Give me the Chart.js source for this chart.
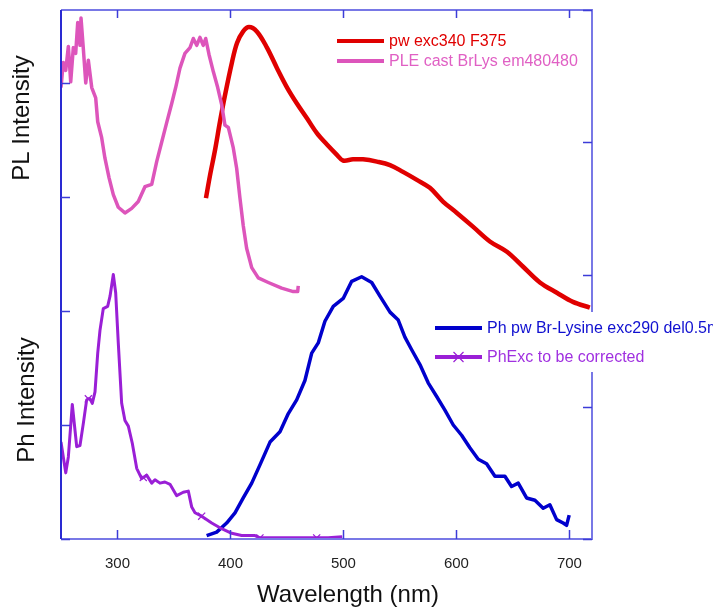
<!DOCTYPE html>
<html>
<head>
<meta charset="utf-8">
<script src="https://cdn.jsdelivr.net/npm/chart.js@4.4.0/dist/chart.umd.min.js"></script>
<style>
  html, body { margin: 0; padding: 0; background: #fff; }
  #wrap { width: 713px; height: 615px; }
</style>
</head>
<body>
<div id="wrap"><canvas id="spectra" width="713" height="615"></canvas></div>
<script>
// PL emission (red)
const redWl = [378.3, 381.9, 386.3, 390.7, 395.1, 401.3, 405.8, 411.1, 416.4, 423.5, 432.3, 441.2, 450.1, 458.8, 467.7, 476.5, 485.4, 494.2, 499.6, 508.4, 517.3, 529.6, 541.2, 552.7, 565.0, 576.5, 588.1, 600.4, 614.6, 629.6, 644.7, 658.8, 673.9, 688.9, 703.1, 718.1];
const redInt = [2.99, 3.19, 3.41, 3.66, 3.89, 4.18, 4.35, 4.45, 4.49, 4.45, 4.31, 4.13, 3.96, 3.82, 3.69, 3.56, 3.46, 3.37, 3.32, 3.33, 3.33, 3.31, 3.28, 3.22, 3.15, 3.08, 2.96, 2.86, 2.74, 2.61, 2.52, 2.39, 2.25, 2.16, 2.08, 2.03];

// PLE (pink)
const pinkWl = [250.0, 252.0, 254.2, 256.5, 258.6, 260.9, 263.0, 264.8, 266.8, 267.7, 269.7, 271.9, 274.2, 277.2, 280.7, 282.5, 286.0, 288.9, 292.5, 296.3, 300.7, 306.6, 312.6, 318.4, 324.3, 330.3, 334.7, 339.1, 343.5, 348.0, 351.5, 355.3, 359.7, 364.2, 367.1, 370.1, 373.0, 375.9, 378.1, 381.0, 384.8, 388.7, 392.2, 395.1, 398.1, 402.5, 405.5, 408.4, 411.3, 414.3, 418.8, 424.6, 433.5, 445.3, 455.6, 459.5, 460.0];
const pinkInt = [3.96, 4.18, 4.11, 4.32, 4.01, 4.31, 4.26, 4.53, 4.33, 4.57, 4.31, 4.00, 4.20, 3.96, 3.87, 3.66, 3.52, 3.34, 3.17, 3.02, 2.91, 2.86, 2.90, 2.96, 3.09, 3.11, 3.31, 3.48, 3.65, 3.82, 3.96, 4.13, 4.26, 4.31, 4.39, 4.33, 4.40, 4.33, 4.39, 4.25, 4.10, 3.96, 3.81, 3.63, 3.61, 3.43, 3.25, 2.99, 2.75, 2.55, 2.38, 2.29, 2.25, 2.20, 2.17, 2.17, 2.22];

// phosphorescence (blue)
const blueWl = [378.9, 387.8, 396.6, 404.0, 411.3, 418.8, 426.1, 435.0, 443.8, 451.2, 458.6, 465.9, 471.9, 477.7, 483.6, 491.0, 499.8, 507.3, 516.1, 525.0, 532.3, 541.2, 548.5, 554.4, 560.4, 567.7, 575.0, 582.5, 589.8, 597.2, 604.6, 611.9, 619.3, 626.7, 634.1, 642.9, 648.8, 654.7, 662.1, 669.5, 676.8, 682.7, 688.7, 694.5, 697.5, 699.8];
const blueInt = [0.03, 0.06, 0.14, 0.23, 0.36, 0.49, 0.65, 0.85, 0.94, 1.10, 1.22, 1.39, 1.63, 1.72, 1.91, 2.04, 2.11, 2.26, 2.30, 2.25, 2.13, 1.99, 1.92, 1.77, 1.66, 1.53, 1.37, 1.25, 1.13, 1.00, 0.91, 0.80, 0.70, 0.66, 0.55, 0.55, 0.46, 0.49, 0.36, 0.34, 0.27, 0.30, 0.17, 0.14, 0.12, 0.21];

// phosphorescence excitation (purple)
const purpleWl = [250.0, 254.2, 256.5, 260.0, 263.9, 266.8, 269.7, 272.7, 274.2, 275.7, 277.7, 280.1, 282.5, 284.5, 287.4, 291.3, 293.4, 296.3, 298.4, 300.7, 303.7, 306.6, 309.6, 313.1, 317.0, 321.4, 322.8, 325.8, 330.3, 333.2, 337.6, 342.0, 346.5, 352.4, 358.2, 362.7, 365.7, 368.6, 374.5, 383.4, 392.2, 401.1, 409.9, 421.7, 426.1, 436.5, 451.2, 468.8, 476.3, 486.5, 498.9];
const purpleInt = [0.85, 0.58, 0.72, 1.18, 0.81, 0.82, 1.01, 1.22, 1.23, 1.23, 1.19, 1.29, 1.63, 1.83, 2.02, 2.04, 2.13, 2.32, 2.16, 1.72, 1.19, 1.04, 0.99, 0.84, 0.62, 0.53, 0.54, 0.56, 0.49, 0.52, 0.49, 0.50, 0.48, 0.38, 0.41, 0.42, 0.28, 0.23, 0.20, 0.14, 0.09, 0.05, 0.03, 0.03, 0.01, 0.01, 0.01, 0.01, 0.01, 0.01, 0.02];
const purpleMarks = [274.2, 322.8, 374.5, 426.1, 476.3];

const xTicks = [300, 400, 500, 600, 700];
const leftTicks = [0, 1, 2, 3, 4];
const rightTicks = [0, 1, 2, 3, 4];

const FONT = "'Liberation Sans', Arial, sans-serif";
Chart.defaults.font.family = FONT;

function pts(xs, ys) {
    return xs.map((x, i) => ({ x: x, y: ys[i] }));
}

// frame, inward ticks, axis labels and the two legend blocks
const decor = {
    id: 'decor',
    afterDatasetsDraw(chart) {
        const { ctx, chartArea: a, scales } = chart;
        ctx.save();

        ctx.lineWidth = 2;
        ctx.strokeStyle = '#7878e6';
        ctx.beginPath();
        ctx.moveTo(a.left, a.top);
        ctx.lineTo(a.right, a.top);
        ctx.lineTo(a.right, a.bottom);
        ctx.lineTo(a.left, a.bottom);
        ctx.stroke();
        ctx.strokeStyle = '#2a2ad2';
        ctx.beginPath();
        ctx.moveTo(a.left, a.top);
        ctx.lineTo(a.left, a.bottom);
        ctx.stroke();

        ctx.strokeStyle = '#3c3cd8';
        ctx.lineWidth = 1.5;
        ctx.beginPath();
        scales.x.ticks.forEach(t => {
            const px = Math.round(scales.x.getPixelForValue(t.value)) + 0.5;
            ctx.moveTo(px, a.top); ctx.lineTo(px, a.top + 8);
            ctx.moveTo(px, a.bottom); ctx.lineTo(px, a.bottom - 9);
        });
        scales.y.ticks.forEach(t => {
            const py = Math.round(scales.y.getPixelForValue(t.value)) + 0.5;
            ctx.moveTo(a.left, py); ctx.lineTo(a.left + 9, py);
        });
        scales.y2.ticks.forEach(t => {
            const py = Math.round(scales.y2.getPixelForValue(t.value)) + 0.5;
            ctx.moveTo(a.right, py); ctx.lineTo(a.right - 9, py);
        });
        ctx.stroke();

        // axis titles
        ctx.fillStyle = '#111';
        ctx.font = '24px ' + FONT;
        ctx.textAlign = 'center';
        ctx.textBaseline = 'middle';
        ctx.fillText('Wavelength (nm)', 348, 595);
        [['PL Intensity', 22, 118], ['Ph Intensity', 27, 400]].forEach(([txt, x, y]) => {
            ctx.save();
            ctx.translate(x, y);
            ctx.rotate(-Math.PI / 2);
            ctx.fillText(txt, 0, 0);
            ctx.restore();
        });

        // legends
        const ds = chart.data.datasets;
        ctx.fillStyle = '#fff';
        ctx.fillRect(432, 312, 300, 60);
        const rows = [[ds[0], 337, 384, 389, 41], [ds[1], 337, 384, 389, 61],
                      [ds[2], 435, 482, 487, 328], [ds[3], 435, 482, 487, 357]];
        ctx.font = '16px ' + FONT;
        ctx.textAlign = 'left';
        rows.forEach(([d, x0, x1, tx, y]) => {
            ctx.strokeStyle = d.borderColor;
            ctx.lineWidth = 4;
            ctx.beginPath(); ctx.moveTo(x0, y); ctx.lineTo(x1, y); ctx.stroke();
            if (d.label.startsWith('PhExc')) {
                const cx = (x0 + x1) / 2;
                ctx.lineWidth = 1.2;
                ctx.beginPath();
                ctx.moveTo(cx - 5, y - 5); ctx.lineTo(cx + 5, y + 5);
                ctx.moveTo(cx - 5, y + 5); ctx.lineTo(cx + 5, y - 5);
                ctx.stroke();
            }
            ctx.fillStyle = d.labelColor;
            ctx.fillText(d.label, tx, y + 1);
        });
        ctx.restore();
    }
};

const config = {
    type: 'line',
    data: {
        datasets: [
            {
                label: 'pw exc340 F375',
                data: pts(redWl, redInt),
                borderColor: '#e00000',
                labelColor: '#e00000',
                borderWidth: 4.5,
                pointRadius: 0,
                tension: 0.35,
                order: 3
            },
            {
                label: 'PLE cast BrLys em480480',
                data: pts(pinkWl, pinkInt),
                borderColor: '#dd55bb',
                labelColor: '#e060c4',
                borderWidth: 3.5,
                pointRadius: 0,
                order: 2
            },
            {
                label: 'Ph pw Br-Lysine exc290 del0.5ms',
                data: pts(blueWl, blueInt),
                borderColor: '#0000cc',
                labelColor: '#1010d0',
                borderWidth: 3.5,
                pointRadius: 0,
                order: 1
            },
            {
                label: 'PhExc to be corrected',
                data: pts(purpleWl, purpleInt),
                borderColor: '#9a1fd6',
                labelColor: '#a030e0',
                borderWidth: 3,
                pointStyle: 'crossRot',
                pointRadius: c => purpleMarks.includes(c.raw && c.raw.x) ? 5 : 0,
                pointBorderWidth: 1.2,
                order: 0
            }
        ]
    },
    options: {
        responsive: false,
        devicePixelRatio: 1,
        animation: false,
        layout: { padding: { top: 10, left: 0, right: 0, bottom: 0 } },
        plugins: {
            legend: { display: false },
            tooltip: { enabled: false }
        },
        elements: { line: { tension: 0, borderJoinStyle: 'round' } },
        scales: {
            x: {
                type: 'linear',
                min: 250,
                max: 720,
                afterBuildTicks: s => { s.ticks = xTicks.map(v => ({ value: v })); },
                afterFit: s => { s.height = 76; },
                grid: { display: false, drawTicks: false },
                border: { display: false },
                ticks: { color: '#222', font: { size: 15 }, padding: 16, maxRotation: 0 }
            },
            y: {
                type: 'linear',
                position: 'left',
                min: 0,
                max: 4.64,
                afterBuildTicks: s => { s.ticks = leftTicks.map(v => ({ value: v })); },
                afterFit: s => { s.width = 61; },
                grid: { display: false, drawTicks: false },
                border: { display: false },
                ticks: { display: false }
            },
            y2: {
                type: 'linear',
                position: 'right',
                min: 0,
                max: 4,
                afterBuildTicks: s => { s.ticks = rightTicks.map(v => ({ value: v })); },
                afterFit: s => { s.width = 121; },
                grid: { display: false, drawTicks: false },
                border: { display: false },
                ticks: { display: false }
            }
        }
    },
    plugins: [decor]
};

document.addEventListener('DOMContentLoaded', () => {
    const canvas = document.getElementById('spectra');
    new Chart(canvas, config);
});
</script>
</body>
</html>
